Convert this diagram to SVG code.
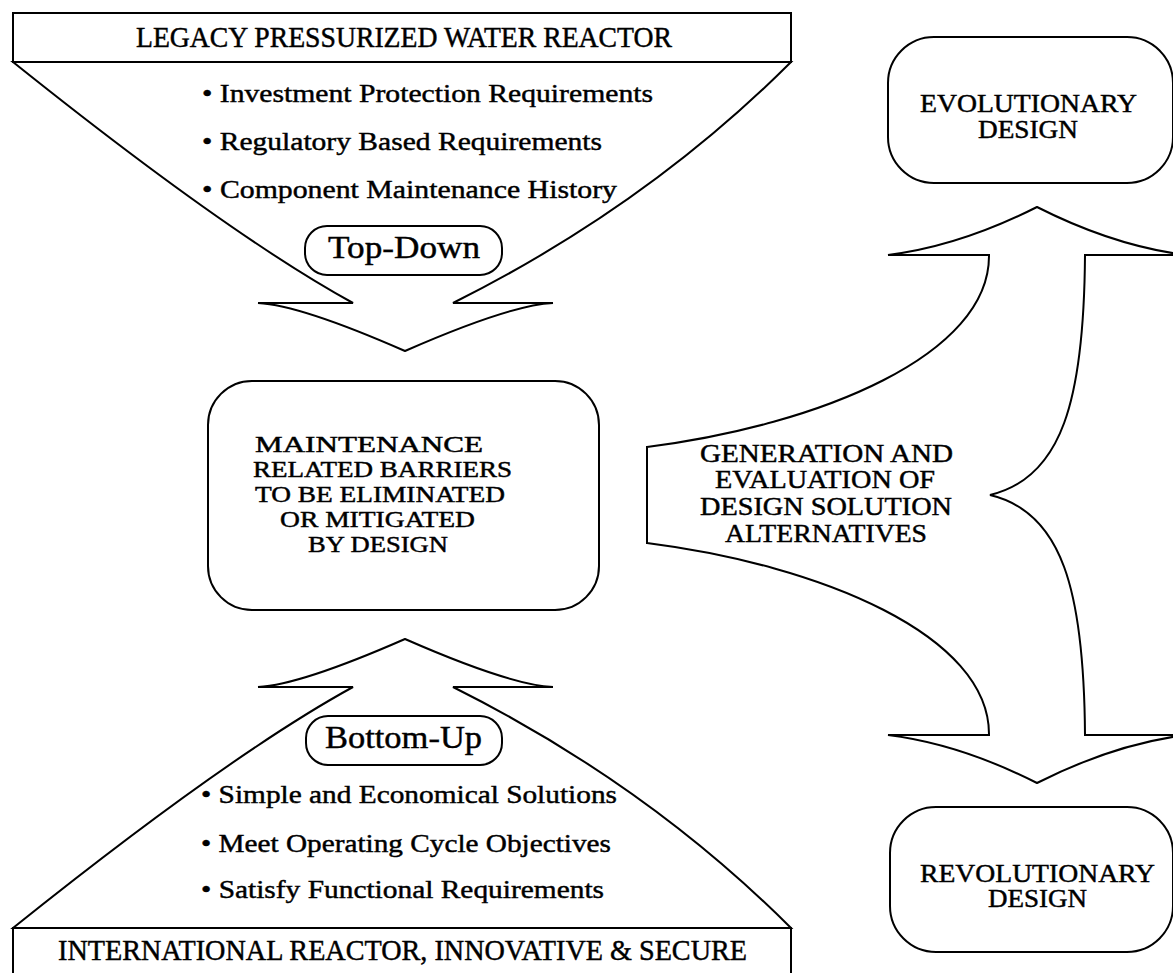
<svg xmlns="http://www.w3.org/2000/svg" width="1173" height="973" viewBox="0 0 1173 973">
  <style>
    .shape { fill: #fff; stroke: #000; stroke-width: 2; stroke-linejoin: miter; }
    .box { fill: #fff; stroke: #000; stroke-width: 2; }
    .t { font-family: "Liberation Serif", "Times New Roman", serif; fill: #000; stroke: #000; stroke-width: 0.45px; }
    .c { text-anchor: middle; }
    .title { font-size: 29px; }
    .item { font-size: 26px; }
    .pill { font-size: 32px; }
    .cap { font-size: 25px; }
    .tight { font-size: 22.5px; }
  </style>
  <rect width="1173" height="973" fill="#fff"/>

  <!-- connectors: the broad flow arrows -->
  <g id="connectors">
    <!-- top-down funnel from the legacy reactor box -->
    <path id="arrow-top-down" class="shape" d="M 13 62 Q 229 235 353 303 L 258 303 Q 300 305 405 351 Q 510 305 553 303 L 453 303 Q 647 206 791 62 Z"/>
    <!-- bottom-up funnel from the international reactor box -->
    <path id="arrow-bottom-up" class="shape" d="M 13 928 Q 229 755 353 687 L 258 687 Q 300 685 405 639 Q 510 685 553 687 L 453 687 Q 647 784 791 928 Z"/>
    <!-- branching arrow: evaluation to evolutionary / revolutionary design -->
    <path id="arrow-branch" class="shape" d="M 647 447 C 820 425 990 355 989 255 L 888 255 Q 960 246 1037 207 Q 1114 246 1186 255 L 1085 255 C 1084 400 1062 478 990 495 C 1062 512 1084 590 1085 735 L 1186 735 Q 1114 744 1037 783 Q 960 744 888 735 L 989 735 C 990 635 820 565 647 543 Z"/>
  </g>

  <g id="legacy-pwr">
    <rect class="box" x="13" y="13" width="778" height="49"/>
    <text class="t c title" x="404" y="47" textLength="536" lengthAdjust="spacingAndGlyphs">LEGACY PRESSURIZED WATER REACTOR</text>
  </g>

  <g id="top-down-items">
    <text class="t item" x="202" y="102" textLength="451" lengthAdjust="spacingAndGlyphs">• Investment Protection Requirements</text>
    <text class="t item" x="202" y="150" textLength="400" lengthAdjust="spacingAndGlyphs">• Regulatory Based Requirements</text>
    <text class="t item" x="202" y="198" textLength="415" lengthAdjust="spacingAndGlyphs">• Component Maintenance History</text>
  </g>

  <g id="top-down">
    <rect class="box" x="305" y="226" width="197" height="49" rx="22" ry="22"/>
    <text class="t c pill" x="404" y="258" textLength="152" lengthAdjust="spacingAndGlyphs">Top-Down</text>
  </g>

  <g id="barriers">
    <rect class="box" x="208" y="381" width="391" height="229" rx="44" ry="44"/>
    <text class="t c tight" x="369" y="452" textLength="228" lengthAdjust="spacingAndGlyphs">MAINTENANCE</text>
    <text class="t c tight" x="382.5" y="477" textLength="259" lengthAdjust="spacingAndGlyphs">RELATED BARRIERS</text>
    <text class="t c tight" x="380" y="502" textLength="250" lengthAdjust="spacingAndGlyphs">TO BE ELIMINATED</text>
    <text class="t c tight" x="377.5" y="527" textLength="195" lengthAdjust="spacingAndGlyphs">OR MITIGATED</text>
    <text class="t c tight" x="378" y="552" textLength="140" lengthAdjust="spacingAndGlyphs">BY DESIGN</text>
  </g>

  <g id="bottom-up">
    <rect class="box" x="306" y="716" width="196" height="49" rx="22" ry="22"/>
    <text class="t c pill" x="403.5" y="748" textLength="157" lengthAdjust="spacingAndGlyphs">Bottom-Up</text>
  </g>

  <g id="bottom-up-items">
    <text class="t item" x="201" y="803" textLength="416" lengthAdjust="spacingAndGlyphs">• Simple and Economical Solutions</text>
    <text class="t item" x="201" y="852" textLength="410" lengthAdjust="spacingAndGlyphs">• Meet Operating Cycle Objectives</text>
    <text class="t item" x="201" y="898" textLength="403" lengthAdjust="spacingAndGlyphs">• Satisfy Functional Requirements</text>
  </g>

  <g id="international-reactor">
    <rect class="box" x="13" y="928" width="778" height="70"/>
    <text class="t c title" x="402.5" y="960" textLength="689" lengthAdjust="spacingAndGlyphs">INTERNATIONAL REACTOR, INNOVATIVE &amp; SECURE</text>
  </g>

  <g id="generation-evaluation">
    <text class="t c cap" x="826.5" y="462" textLength="253" lengthAdjust="spacingAndGlyphs">GENERATION AND</text>
    <text class="t c cap" x="825" y="488" textLength="220" lengthAdjust="spacingAndGlyphs">EVALUATION OF</text>
    <text class="t c cap" x="826" y="515" textLength="252" lengthAdjust="spacingAndGlyphs">DESIGN SOLUTION</text>
    <text class="t c cap" x="826" y="542" textLength="202" lengthAdjust="spacingAndGlyphs">ALTERNATIVES</text>
  </g>

  <g id="evolutionary">
    <rect class="box" x="888" y="37" width="285" height="146" rx="46" ry="46"/>
    <text class="t c cap" x="1028.5" y="112" textLength="217" lengthAdjust="spacingAndGlyphs">EVOLUTIONARY</text>
    <text class="t c cap" x="1028" y="138" textLength="100" lengthAdjust="spacingAndGlyphs">DESIGN</text>
  </g>

  <g id="revolutionary">
    <rect class="box" x="890" y="807" width="283" height="145" rx="46" ry="46"/>
    <text class="t c cap" x="1037.5" y="882" textLength="235" lengthAdjust="spacingAndGlyphs">REVOLUTIONARY</text>
    <text class="t c cap" x="1037.5" y="907" textLength="99" lengthAdjust="spacingAndGlyphs">DESIGN</text>
  </g>
</svg>
